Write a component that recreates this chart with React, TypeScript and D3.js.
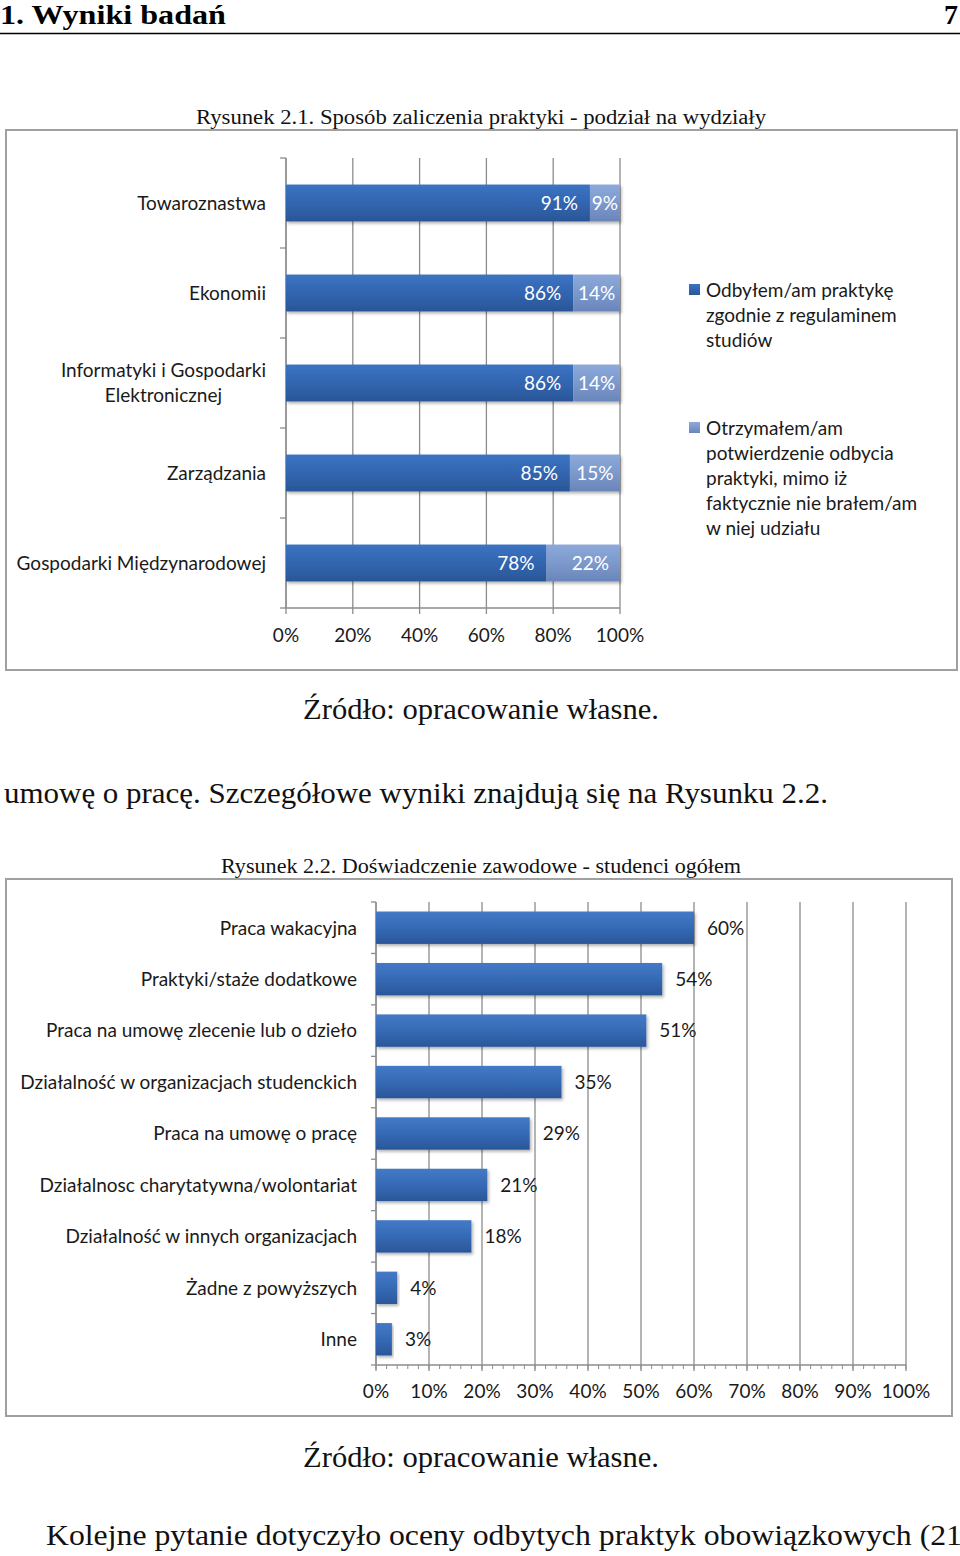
import React from "react";
import * as d3 from "d3";

// ---------- DATA ----------
const faculties = [
  "Towaroznastwa",
  "Ekonomii",
  "Informatyki i Gospodarki Elektronicznej",
  "Zarządzania",
  "Gospodarki Międzynarodowej",
];
const facultyLabelLines = [
  ["Towaroznastwa"],
  ["Ekonomii"],
  ["Informatyki i Gospodarki", "Elektronicznej"],
  ["Zarządzania"],
  ["Gospodarki Międzynarodowej"],
];
const seriesZgodnie = [91, 86, 86, 85, 78];
const seriesPotwierdzenie = [9, 14, 14, 15, 22];
const legend1Lines = [
  ["Odbyłem/am praktykę", "zgodnie z regulaminem", "studiów"],
  ["Otrzymałem/am", "potwierdzenie odbycia", "praktyki, mimo iż", "faktycznie nie brałem/am", "w niej udziału"],
];
const ticks1 = [0, 20, 40, 60, 80, 100];

const experienceCats = [
  "Praca wakacyjna",
  "Praktyki/staże dodatkowe",
  "Praca na umowę zlecenie lub o dzieło",
  "Działalność w organizacjach studenckich",
  "Praca na umowę o pracę",
  "Działalnosc charytatywna/wolontariat",
  "Działalność w innych organizacjach",
  "Żadne z powyższych",
  "Inne",
];
const experienceVals = [60, 54, 51, 35, 29, 21, 18, 4, 3];
const ticks2 = [0, 10, 20, 30, 40, 50, 60, 70, 80, 90, 100];
const minorTicks2 = d3.range(0, 101, 2);

// ---------- STYLE ----------
const SANS = "Lato, 'Open Sans', sans-serif";
const SERIF = "'Liberation Serif', 'DejaVu Serif', serif";
const GRID = "#8c8c8c";
const TXT = "#1a1a1a";
const FS = 19;

let measureCtx: CanvasRenderingContext2D | null = null;
function measure(s: string): number {
  if (typeof document !== "undefined") {
    if (!measureCtx) measureCtx = document.createElement("canvas").getContext("2d");
    if (measureCtx) {
      measureCtx.font = `${FS}px Lato, 'Open Sans', sans-serif`;
      return measureCtx.measureText(s).width;
    }
  }
  return s.length * 8.6;
}

export default function App() {
  // Chart 1 scales
  const x1 = d3.scaleLinear().domain([0, 100]).range([286, 620]);
  const y1 = d3.scaleBand().domain(faculties).range([158, 608]).paddingInner(0.59).paddingOuter(0.295);
  const bands1 = d3.range(faculties.length + 1).map((i) => 158 + i * ((608 - 158) / faculties.length));

  // Chart 2 scales
  const x2 = d3.scaleLinear().domain([0, 100]).range([376, 906]);
  const y2 = d3.scaleBand().domain(experienceCats).range([902, 1365]).paddingInner(0.37).paddingOuter(0.185);
  const bands2 = d3.range(experienceCats.length + 1).map((i) => 902 + i * ((1365 - 902) / experienceCats.length));

  return (
    <svg width={960} height={1556} style={{ position: "absolute", left: 0, top: 0, background: "#fff" }}
      xmlns="http://www.w3.org/2000/svg">
      <defs>
        <linearGradient id="gDark" x1="0" y1="0" x2="0" y2="1">
          <stop offset="0" stopColor="#3C74C2" />
          <stop offset="0.5" stopColor="#3265B0" />
          <stop offset="1" stopColor="#2A5697" />
        </linearGradient>
        <linearGradient id="gLight" x1="0" y1="0" x2="0" y2="1">
          <stop offset="0" stopColor="#8CA9DA" />
          <stop offset="0.5" stopColor="#7C99CC" />
          <stop offset="1" stopColor="#6985BA" />
        </linearGradient>
        <linearGradient id="gBar2" x1="0" y1="0" x2="0" y2="1">
          <stop offset="0" stopColor="#4479C6" />
          <stop offset="0.5" stopColor="#356AB5" />
          <stop offset="1" stopColor="#2B5699" />
        </linearGradient>
        <filter id="shadow" x="-5%" y="-20%" width="115%" height="160%">
          <feDropShadow dx="1.5" dy="2" stdDeviation="1.5" floodColor="#000" floodOpacity="0.3" />
        </filter>
      </defs>

      {/* Page header */}
      <text x={0} y={24} fontFamily={SERIF} fontWeight="bold" fontSize={28} fill="#000" textLength={226} lengthAdjust="spacingAndGlyphs">1. Wyniki badań</text>
      <text x={958} y={24} fontFamily={SERIF} fontWeight="bold" fontSize={28} fill="#000" textAnchor="end">7</text>
      <line x1={0} x2={960} y1={33.5} y2={33.5} stroke="#000" strokeWidth={1.5} />

      {/* Caption 1 */}
      <text x={196} y={124} fontFamily={SERIF} fontSize={20} fill="#111" textLength={570} lengthAdjust="spacingAndGlyphs">Rysunek 2.1. Sposób zaliczenia praktyki - podział na wydziały</text>

      {/* Chart 1 frame */}
      <rect x={6} y={130} width={951} height={540} fill="#fff" stroke="#a0a0a0" strokeWidth={2} />

      {/* Chart 1 gridlines */}
      {ticks1.map((t) => (
        <line key={"g1" + t} x1={x1(t)} x2={x1(t)} y1={158} y2={614} stroke={GRID} strokeWidth={1.3} />
      ))}
      <line x1={286} x2={286} y1={158} y2={608} stroke={GRID} strokeWidth={1.3} />
      {bands1.map((b, i) => (
        <line key={"yt1" + i} x1={280} x2={286} y1={b} y2={b} stroke={GRID} strokeWidth={1.3} />
      ))}
      <line x1={286} x2={620} y1={608} y2={608} stroke={GRID} strokeWidth={1.3} />

      {/* Chart 1 bars */}
      {faculties.map((f, i) => {
        const y = y1(f)!;
        const h = y1.bandwidth();
        const a = seriesZgodnie[i];
        const b = seriesPotwierdzenie[i];
        const cy = y + h / 2;
        const segW = x1(a + b) - x1(a);
        const tw = measure(b + "%");
        const pad = Math.min(11, Math.max(2, (segW - tw) / 2));
        return (
          <g key={f}>
            <g filter="url(#shadow)">
              <rect x={x1(0)} y={y} width={x1(a) - x1(0)} height={h} fill="url(#gDark)" />
              <rect x={x1(a)} y={y} width={segW} height={h} fill="url(#gLight)" />
            </g>
            <text x={x1(a) - 12} y={cy} dy="0.36em" textAnchor="end" fontFamily={SANS} fontSize={FS} fill="#fff">{a}%</text>
            <text x={x1(a + b) - pad} y={cy} dy="0.36em" textAnchor="end" fontFamily={SANS} fontSize={FS} fill="#fff">{b}%</text>
          </g>
        );
      })}

      {/* Chart 1 category labels */}
      {faculties.map((f, i) => {
        const lines = facultyLabelLines[i];
        const cy = y1(f)! + y1.bandwidth() / 2;
        const maxW = Math.max(...lines.map(measure));
        const cx = 266 - maxW / 2;
        return lines.map((ln, j) => {
          const yy = cy + (j - (lines.length - 1) / 2) * 25;
          return lines.length > 1 ? (
            <text key={f + j} x={cx} y={yy} dy="0.36em" textAnchor="middle" fontFamily={SANS} fontSize={FS} fill={TXT}>{ln}</text>
          ) : (
            <text key={f + j} x={266} y={yy} dy="0.36em" textAnchor="end" fontFamily={SANS} fontSize={FS} fill={TXT}>{ln}</text>
          );
        });
      })}

      {/* Chart 1 x tick labels */}
      {ticks1.map((t) => (
        <text key={"t1" + t} x={x1(t)} y={635} dy="0.36em" textAnchor="middle" fontFamily={SANS} fontSize={FS} fill={TXT}>{t}%</text>
      ))}

      {/* Chart 1 legend */}
      {legend1Lines.map((lines, k) => {
        const top = k === 0 ? 290 : 428;
        return (
          <g key={"lg" + k}>
            <rect x={689} y={top - 6} width={11} height={11} fill={k === 0 ? "url(#gDark)" : "url(#gLight)"} />
            {lines.map((ln, j) => (
              <text key={j} x={706} y={top + j * 25} dy="0.36em" fontFamily={SANS} fontSize={FS} fill={TXT}>{ln}</text>
            ))}
          </g>
        );
      })}

      {/* Source 1 & body text */}
      <text x={303} y={719} fontFamily={SERIF} fontSize={30} fill="#111" textLength={356} lengthAdjust="spacingAndGlyphs">Źródło: opracowanie własne.</text>
      <text x={4} y={803} fontFamily={SERIF} fontSize={30} fill="#111" textLength={824} lengthAdjust="spacingAndGlyphs">umowę o pracę. Szczegółowe wyniki znajdują się na Rysunku 2.2.</text>

      {/* Caption 2 */}
      <text x={221} y={873} fontFamily={SERIF} fontSize={20} fill="#111" textLength={520} lengthAdjust="spacingAndGlyphs">Rysunek 2.2. Doświadczenie zawodowe - studenci ogółem</text>

      {/* Chart 2 frame */}
      <rect x={6} y={879} width={946} height={537} fill="#fff" stroke="#a0a0a0" strokeWidth={2} />

      {/* Chart 2 gridlines */}
      {ticks2.map((t) => (
        <line key={"g2" + t} x1={x2(t)} x2={x2(t)} y1={902} y2={1371} stroke={GRID} strokeWidth={1.3} />
      ))}
      {minorTicks2.map((t) => (
        <line key={"m2" + t} x1={x2(t)} x2={x2(t)} y1={1365} y2={1369} stroke={GRID} strokeWidth={1} />
      ))}
      <line x1={376} x2={376} y1={902} y2={1365} stroke={GRID} strokeWidth={1.3} />
      {bands2.map((b, i) => (
        <line key={"yt2" + i} x1={371} x2={376} y1={b} y2={b} stroke={GRID} strokeWidth={1.3} />
      ))}
      <line x1={376} x2={906} y1={1365} y2={1365} stroke={GRID} strokeWidth={1.3} />

      {/* Chart 2 bars */}
      {experienceCats.map((c, i) => {
        const y = y2(c)!;
        const h = y2.bandwidth();
        const v = experienceVals[i];
        return (
          <g key={c}>
            <rect x={x2(0)} y={y} width={x2(v) - x2(0)} height={h} fill="url(#gBar2)" filter="url(#shadow)" />
            <text x={x2(v) + 13} y={y + h / 2} dy="0.36em" fontFamily={SANS} fontSize={FS} fill={TXT}>{v}%</text>
            <text x={357} y={y + h / 2} dy="0.36em" textAnchor="end" fontFamily={SANS} fontSize={FS} fill={TXT}>{c}</text>
          </g>
        );
      })}

      {/* Chart 2 x tick labels */}
      {ticks2.map((t) => (
        <text key={"t2" + t} x={x2(t)} y={1391} dy="0.36em" textAnchor="middle" fontFamily={SANS} fontSize={FS} fill={TXT}>{t}%</text>
      ))}

      {/* Source 2 & body text */}
      <text x={303} y={1467} fontFamily={SERIF} fontSize={30} fill="#111" textLength={356} lengthAdjust="spacingAndGlyphs">Źródło: opracowanie własne.</text>
      <text x={46} y={1545} fontFamily={SERIF} fontSize={30} fill="#111" textLength={916} lengthAdjust="spacingAndGlyphs">Kolejne pytanie dotyczyło oceny odbytych praktyk obowiązkowych (21</text>
    </svg>
  );
}
